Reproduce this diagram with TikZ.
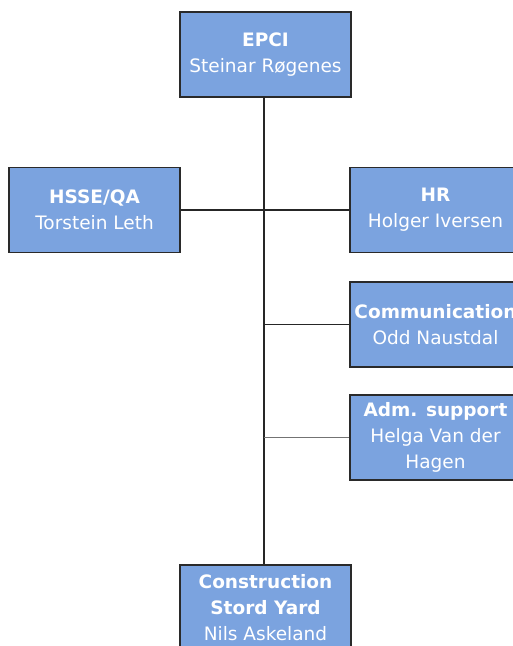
\documentclass[tikz,border=0pt]{standalone}
\usepackage{fontspec}
\setmainfont{DejaVu Sans}
\definecolor{boxblue}{HTML}{7BA3DF}
\definecolor{edgegray}{HTML}{2A2A2A}
\begin{document}
\begin{tikzpicture}[x=1pt,y=-1pt,
  unit/.style={draw=edgegray, line width=1.2pt, fill=boxblue, text=white,
    minimum width=171pt, minimum height=85pt, inner sep=0pt, align=center,
    font=\fontsize{18.5}{26}\selectfont},
  link/.style={draw=black!85, line width=1.2pt}]
\useasboundingbox (0,0) rectangle (513,646);
\clip (0,0) rectangle (513,646);
\fill[white] (0,0) rectangle (513,646);

% organisation units
\node[unit] (epci) at (265.5,54.5) {\textbf{EPCI}\\Steinar Røgenes};
\node[unit] (hsse) at (94.5,210) {\textbf{HSSE/QA}\\Torstein Leth};
\node[unit] (hr) at (435.5,210) {\textbf{HR}\\Holger Iversen};
\node[unit] (comm) at (435.5,324.5) {\textbf{Communication}\\Odd Naustdal};
\node[unit] (adm) at (435.5,437.5) {\textbf{Adm. support}\\Helga Van der\\Hagen};
\node[unit, minimum height=86pt] (cons) at (265.5,608) {\textbf{Construction}\\\textbf{Stord Yard}\\Nils Askeland};

% reporting lines
\coordinate (top) at (264,97);
\coordinate (jc) at (264,324.5);
\coordinate (ja) at (264,437.5);
\path[link] (top) -- (top |- cons.north);
\path[link] (hsse.east) -- (hr.west);
\path[link] (jc) -- (comm.west);
\path[link, draw=black!55] (ja) -- (adm.west);
\end{tikzpicture}
\end{document}
